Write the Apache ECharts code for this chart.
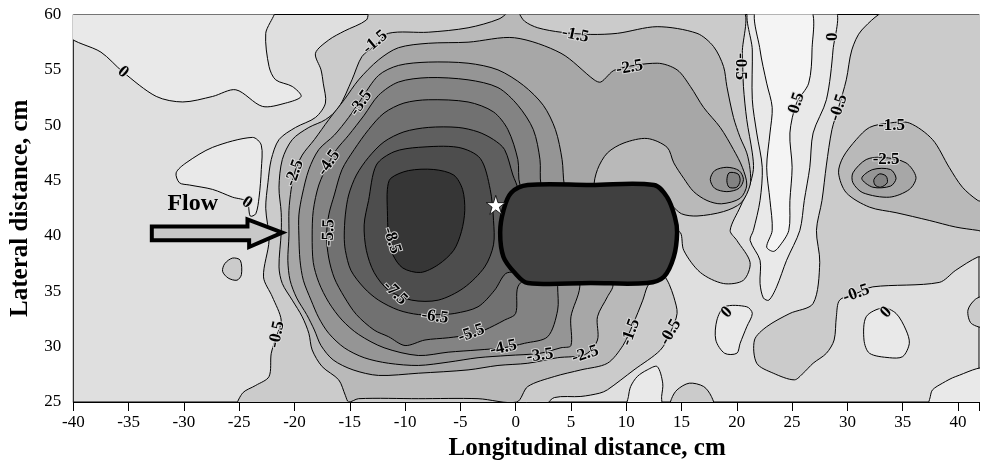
<!DOCTYPE html>
<html><head><meta charset="utf-8">
<script src="https://cdn.jsdelivr.net/npm/echarts@6.0.0/dist/echarts.min.js"></script>
<style>html,body{margin:0;padding:0;background:#fff}#c{width:982px;height:466px}</style>
</head><body><div id="c"></div>
<script>
// ---------------- DATA (cm) ----------------
const xRange = [-40, 41.9];
const yRange = [25, 60];
const tickStep = 5;

// positive regions (value > 0)
const pos0_topLeft = [[-40.5,58.1],[-37.5,56.6],[-35.5,54.8],[-32.5,52.6],[-30.1,52.1],[-27.4,52.6],[-25.3,53.2],[-22.9,51.7],[-20.8,52.0],[-19.4,52.6],[-20.2,53.5],[-21.7,54.1],[-22.3,55.3],[-22.6,58.3],[-21.9,60.5],[-40.5,60.5]];
const pos0_arrow = [[-30.7,45.7],[-29.8,46.6],[-27.4,48.0],[-23.8,48.9],[-23.0,48.2],[-23.0,46.0],[-23.2,43.5],[-23.5,42.0],[-24.0,41.8],[-24.3,43.1],[-25.6,43.5],[-27.4,44.2],[-29.5,44.6],[-30.4,44.8]];
const pos0_ridge = [[21.2,60.5],[21.4,56.8],[21.4,52.3],[21.8,49.3],[22.3,46.2],[22.1,43.2],[21.5,40.5],[21.2,39.6],[22.1,37.8],[22.1,35.7],[22.4,34.4],[22.9,34.2],[23.6,35.4],[24.5,37.8],[25.7,40.5],[26.1,43.2],[26.6,46.2],[26.9,49.3],[28.1,52.3],[28.7,56.8],[28.8,60.5]];
const pos0_blobA = [[18.9,33.6],[20.9,33.6],[21.4,33.0],[20.9,31.8],[20.3,30.3],[20.0,29.4],[18.9,29.4],[18.1,30.6],[18.2,32.4]];
const pos0_blobB = [[31.7,32.7],[33.2,33.5],[34.4,33.0],[35.3,31.5],[35.6,30.3],[35.0,29.1],[33.8,29.0],[32.0,29.4],[31.5,30.6]];
const pos0_bottomRight = [[37.4,24.5],[37.5,25.5],[37.7,26.1],[38.6,26.7],[39.8,27.3],[42.5,28.0],[42.5,24.5]];
const pos0_bottomMid = [[10.1,24.5],[10.2,25.5],[10.4,26.4],[11.0,27.3],[11.9,27.9],[12.8,28.2],[13.3,26.7],[13.2,25.5],[13.1,24.5]];
// value > 0.5
const pos05_ridge = [[21.8,60.5],[22.1,56.8],[22.7,53.8],[23.2,51.6],[23.0,49.3],[22.7,46.2],[23.0,43.2],[23.2,40.5],[22.7,39.0],[23.3,38.6],[23.8,39.0],[24.7,40.5],[24.8,43.2],[25.0,46.2],[24.8,49.3],[25.4,52.0],[26.5,53.8],[26.8,56.8],[26.6,60.5]];

// negative regions (value below level)
const neg05_main = [[-13.1,60.5],[-13.5,59.5],[-15.5,58.5],[-16.9,57.7],[-18.1,56.5],[-17.6,55.0],[-17.4,53.8],[-17.2,52.0],[-18.1,50.7],[-19.9,49.8],[-21.4,48.7],[-22.1,46.9],[-22.4,44.8],[-22.6,42.5],[-22.3,39.6],[-22.8,36.3],[-22.0,34.5],[-21.2,32.4],[-21.6,31.0],[-22.1,29.4],[-22.3,27.3],[-23.5,26.5],[-24.7,25.8],[-25.1,24.5],[2.3,24.5],[3.5,25.4],[5.9,25.5],[7.6,25.8],[8.3,26.1],[10.7,27.9],[13.1,29.7],[14.0,31.3],[14.6,33.0],[14.3,34.5],[13.9,35.6],[13.3,37.0],[14.1,40.4],[14.9,40.3],[15.2,38.7],[16.7,36.7],[18.8,35.7],[20.6,36.0],[21.2,37.6],[20.0,39.6],[19.4,40.5],[20.3,42.6],[21.1,44.4],[21.5,46.0],[21.4,47.5],[20.9,50.5],[20.6,53.5],[20.5,56.5],[20.3,60.5]];
const neg05_east = [[33.9,60.5],[42.5,60.5],[42.5,38.1],[41.8,38.1],[39.8,36.9],[38.3,35.8],[32.3,35.4],[30.8,34.8],[29.3,34.2],[29.0,32.7],[28.8,30.6],[28.1,29.4],[26.9,28.5],[26.0,27.6],[25.2,27.0],[23.3,27.6],[21.8,28.5],[21.6,30.6],[22.7,31.8],[24.8,33.0],[26.9,33.9],[27.5,37.6],[27.2,40.5],[27.7,43.2],[28.1,46.4],[28.6,49.6],[29.2,51.6],[29.9,54.1],[30.4,56.8],[31.3,58.6]];
const neg05_blobW = [[-26.3,37.5],[-25.6,38.0],[-24.9,37.8],[-24.8,36.5],[-25.2,36.0],[-26.0,36.2],[-26.5,36.8]];
const neg05_bottomBump = [[14.0,24.5],[14.1,25.3],[14.6,26.1],[15.7,26.7],[17.0,26.4],[17.7,25.5],[17.9,24.5]];
const neg05_rightBump = [[42.5,34.5],[41.6,34.3],[40.9,33.3],[41.2,32.1],[42.5,31.8]];

const neg15_main = [[-0.1,60.5],[0.8,59.4],[2.0,58.8],[4.1,58.4],[6.8,58.2],[9.2,58.3],[12.8,58.9],[16.4,58.3],[17.9,57.1],[18.8,55.3],[19.1,53.5],[19.7,50.7],[20.3,48.9],[20.9,47.5],[21.2,46.0],[21.2,44.6],[20.4,43.0],[18.8,42.2],[16.4,41.8],[15.0,42.0],[13.6,43.0],[12.8,36.9],[11.9,35.4],[11.5,34.2],[10.6,32.0],[9.7,30.1],[8.3,28.5],[5.9,27.9],[3.5,27.3],[1.1,26.4],[0.1,25.0],[-3.4,25.3],[-8.8,25.3],[-14.2,25.3],[-15.1,25.0],[-15.4,25.6],[-16.0,27.0],[-17.5,28.2],[-18.4,29.7],[-18.7,31.2],[-19.3,32.7],[-20.2,34.2],[-21.1,35.7],[-21.4,37.2],[-21.2,40.3],[-21.2,42.1],[-21.4,44.4],[-21.1,46.9],[-20.2,48.7],[-18.7,49.8],[-17.2,50.5],[-16.0,51.6],[-14.8,54.1],[-13.9,56.2],[-12.7,57.2],[-11.5,58.3],[-7.9,58.4],[-4.3,58.8],[-1.5,59.6]];
const neg15_east = [[32.0,49.8],[33.8,50.2],[35.6,50.2],[37.7,48.7],[39.2,46.2],[40.4,44.4],[41.8,43.2],[42.5,43.0],[42.5,40.4],[41.8,40.5],[39.8,40.8],[37.4,41.4],[34.4,42.1],[32.0,42.6],[29.9,43.9],[29.2,45.7],[29.6,47.1],[30.8,48.7]];

const neg25_main = [[-7.9,57.4],[-4.3,57.5],[-0.1,57.9],[4.1,56.5],[7.1,54.1],[7.7,53.9],[9.0,55.0],[12.8,55.6],[14.6,55.0],[15.8,53.5],[17.0,51.6],[18.5,49.8],[19.7,47.8],[20.5,46.2],[20.9,44.6],[20.3,43.4],[18.6,42.9],[17.3,43.2],[16.1,44.0],[15.2,45.2],[14.3,46.6],[13.7,48.0],[11.9,48.8],[9.8,48.4],[8.3,47.5],[7.4,46.0],[7.1,44.3],[8.8,35.6],[8.3,34.5],[7.4,32.7],[7.4,30.6],[6.3,29.3],[3.8,29.0],[1.1,28.5],[-1.6,28.3],[-4.3,27.9],[-8.8,27.6],[-12.4,27.4],[-14.7,27.9],[-16.5,28.8],[-17.6,30.1],[-18.2,31.5],[-18.9,32.9],[-19.8,34.4],[-20.4,36.0],[-20.6,37.8],[-20.5,40.0],[-20.5,42.3],[-20.3,44.2],[-20.0,45.7],[-19.3,47.3],[-18.2,48.7],[-16.9,50.5],[-15.5,52.3],[-14.2,54.1],[-12.4,55.9],[-10.6,57.0]];
const neg25_east = [[30.5,45.7],[31.7,46.9],[33.2,47.1],[35.3,46.6],[36.2,45.3],[35.6,44.2],[33.8,43.5],[31.4,43.9],[30.5,44.8]];

const neg35_main = [[4.4,44.6],[4.2,46.9],[3.6,49.6],[2.5,51.8],[0.7,53.6],[-1.6,55.0],[-4.3,55.6],[-7.9,55.7],[-10.6,55.4],[-12.4,54.5],[-14.0,52.3],[-15.1,50.7],[-16.4,49.1],[-17.8,47.8],[-18.7,46.0],[-19.3,43.7],[-19.6,41.9],[-19.6,40.0],[-19.5,37.8],[-19.2,36.0],[-18.5,34.2],[-17.8,32.6],[-16.9,31.2],[-15.5,29.9],[-13.7,29.0],[-11.5,28.5],[-8.8,28.3],[-6.1,28.6],[-3.4,29.0],[-0.7,29.2],[2.2,29.4],[4.1,29.9],[5.0,30.1],[5.0,32.7],[5.8,35.4],[5.5,40.0]];
const neg35_spotW = [[20.6,45.1],[20.2,45.9],[19.1,46.2],[18.0,45.9],[17.6,45.1],[18.0,44.3],[19.1,44.0],[20.2,44.3]];
const neg35_spotE = [[31.3,45.2],[32.3,46.0],[33.9,46.0],[34.4,45.2],[33.9,44.5],[32.3,44.4]];

const neg45_main = [[2.3,44.6],[2.2,46.9],[1.6,49.6],[0.2,51.8],[-1.6,53.4],[-4.3,54.1],[-7.9,54.3],[-10.6,53.9],[-12.4,52.7],[-13.7,50.9],[-15.1,49.1],[-16.2,47.8],[-16.9,46.6],[-17.8,44.6],[-18.3,42.3],[-18.4,40.0],[-18.3,37.6],[-17.8,35.8],[-16.9,34.0],[-15.7,32.4],[-14.2,31.1],[-11.9,29.9],[-8.8,29.2],[-6.1,29.5],[-3.4,29.7],[-1.1,29.9],[0.8,30.3],[2.9,30.9],[3.8,33.3],[3.8,35.4],[3.8,40.0]];
const neg45_spotW = [[19.3,45.7],[20.1,45.6],[20.3,45.0],[20.0,44.4],[19.3,44.4],[19.1,45.0]];
const neg45_spotE = [[32.4,45.1],[32.9,45.6],[33.5,45.4],[33.6,44.8],[33.0,44.4],[32.5,44.6]];

const neg55_main = [[0.4,44.6],[0.2,46.9],[-0.7,49.6],[-2.0,51.2],[-4.3,52.1],[-7.9,52.3],[-10.1,52.0],[-11.9,51.1],[-13.3,49.6],[-14.6,47.8],[-15.7,46.0],[-16.4,43.7],[-16.9,41.9],[-17.1,40.0],[-16.9,38.0],[-16.4,36.2],[-15.5,34.5],[-14.4,32.9],[-12.8,31.5],[-11.5,30.9],[-10.0,30.1],[-8.2,30.6],[-6.1,30.8],[-4.0,31.1],[-2.8,31.5],[-1.0,32.4],[0.0,33.0],[0.2,35.4],[1.5,37.0],[1.5,43.5]];
const neg65_main = [[-1.0,47.8],[-0.25,45.5],[0.2,44.2],[0.5,37.0],[-0.9,36.6],[-1.9,35.1],[-3.4,33.6],[-5.5,33.0],[-7.0,32.9],[-8.8,32.9],[-10.6,33.3],[-12.4,34.2],[-13.7,35.3],[-14.9,36.9],[-15.4,38.7],[-15.5,40.0],[-15.4,41.9],[-15.1,43.7],[-14.4,45.5],[-13.3,47.1],[-11.9,48.5],[-10.1,49.4],[-7.9,49.8],[-5.2,49.8],[-3.4,49.4],[-2.0,48.7]];
const neg75_main = [[-13.3,43.2],[-12.6,46.4],[-11.0,47.6],[-8.8,48.0],[-5.2,48.0],[-3.2,47.0],[-2.3,44.2],[-2.0,41.4],[-2.0,39.2],[-2.8,37.2],[-4.7,35.3],[-7.0,34.2],[-9.4,34.2],[-11.5,35.1],[-12.8,36.7],[-13.5,38.7],[-13.7,41.0]];
const neg85_main = [[-11.3,45.2],[-9.7,45.9],[-7.4,46.0],[-5.6,45.5],[-4.8,44.2],[-4.6,42.3],[-4.9,40.4],[-5.6,38.7],[-7.0,37.4],[-8.6,36.7],[-10.2,37.1],[-11.1,38.3],[-11.5,40.1],[-11.6,42.3],[-11.6,44.2]];

// obstacle outline, arrow, star
const obstacleOutline = [[1.1,44.6],[6.8,44.6],[12.5,44.6],[13.7,43.5],[14.4,41.7],[14.6,40.3],[14.3,38.1],[13.4,36.3],[11.9,35.75],[6.8,35.75],[1.1,35.75],[-0.06,36.65],[-1.1,38.1],[-1.4,40.3],[-1.1,42.3],[-0.4,43.9]];
const flowArrow = [[-32.9,40.85],[-24.25,40.85],[-24.25,41.5],[-21.1,40.3],[-24.1,39.0],[-24.1,39.6],[-32.9,39.6]];
const flowLabel = ['Flow', -29.2, 42.9];
const starPoint = [[-1.8, 42.8]];

// contour labels: text, x, y, angle
const contourLabels = [
 ['0',-35.5,54.8,-40],['0',-24.3,43.0,-35],['-1.5',-12.7,57.5,40],['-3.5',-14.0,52.0,55],
 ['-2.5',-20.0,45.7,70],['-4.5',-16.9,46.6,55],['-5.5',-16.9,40.3,88],['-0.5',-21.6,31.1,78],
 ['-8.5',-11.2,39.6,-72],['-7.5',-10.9,34.85,-45],['-6.5',-7.3,32.7,-8],['-5.5',-4.0,31.2,20],
 ['-4.5',-1.1,29.9,12],['-3.5',2.2,29.2,8],['-2.5',6.3,29.3,18],['-1.5',10.4,31.3,70],
 ['-0.5',14.0,31.3,60],['-1.5',5.4,58.15,-12],['-2.5',10.3,55.2,10],['-0.5',20.3,55.3,-90],
 ['0.5',25.4,52.0,72],['0',28.7,58.0,90],['-0.5',29.2,51.6,72],['-1.5',34.0,50.0,0],
 ['-2.5',33.5,46.9,0],['0',19.1,33.1,45],['0',33.5,33.1,45],['-0.5',30.8,34.8,20]
];

// drawing order: [level, region]
const regionList = [
 ['0',pos0_topLeft],['0',pos0_arrow],['0',pos0_ridge],['0',pos0_blobA],['0',pos0_blobB],['0',pos0_bottomRight],['0',pos0_bottomMid],
 ['0.5',pos05_ridge],
 ['-0.5',neg05_main],['-0.5',neg05_east],['-0.5',neg05_blobW],['-0.5',neg05_bottomBump],['-0.5',neg05_rightBump],
 ['-1.5',neg15_main],['-1.5',neg15_east],
 ['-2.5',neg25_main],['-2.5',neg25_east],
 ['-3.5',neg35_main],['-3.5',neg35_spotW],['-3.5',neg35_spotE],
 ['-4.5',neg45_main],['-4.5',neg45_spotW],['-4.5',neg45_spotE],
 ['-5.5',neg55_main],['-6.5',neg65_main],['-7.5',neg75_main],['-8.5',neg85_main]
];

// ---------------- STYLE ----------------
const bandFill = {'0.5':'#f4f4f4','0':'#e9e9e9','-0.5':'#cbcbcb','-1.5':'#b9b9b9','-2.5':'#a7a7a7','-3.5':'#959595','-4.5':'#838383','-5.5':'#717171','-6.5':'#5f5f5f','-7.5':'#4d4d4d','-8.5':'#363636'};
const baseFill = '#dfdfdf';
const FONT = 'Liberation Serif';

const chart = echarts.init(document.getElementById('c'), null, {renderer:'canvas'});
chart.setOption({
  animation:false,
  backgroundColor:'#ffffff',
  grid:{left:73.3, right:-1, top:14.5, bottom:64, show:true, backgroundColor:baseFill, borderColor:'#000', borderWidth:1},
  xAxis:{type:'value', min:xRange[0], max:xRange[1], interval:tickStep,
    name:'Longitudinal distance, cm', nameLocation:'middle', nameGap:33,
    nameTextStyle:{fontFamily:FONT, fontSize:25, fontWeight:'bold', color:'#000', padding:[0,0,0,122]},
    axisLine:{lineStyle:{color:'#000', width:1}}, axisTick:{length:9, lineStyle:{color:'#000'}},
    axisLabel:{fontFamily:FONT, fontSize:17, color:'#000', margin:12, formatter:v => (Math.abs(v % 5) < 1e-9 ? String(v) : '')},
    splitLine:{show:false}},
  yAxis:{type:'value', min:yRange[0], max:yRange[1], interval:tickStep,
    name:'Lateral distance, cm', nameLocation:'middle', nameGap:37,
    nameTextStyle:{fontFamily:FONT, fontSize:25, fontWeight:'bold', color:'#000'},
    axisLine:{lineStyle:{color:'#000', width:1}}, axisTick:{length:9, lineStyle:{color:'#000'}},
    axisLabel:{fontFamily:FONT, fontSize:17, color:'#000', margin:12},
    splitLine:{show:false}},
  series:[
    {type:'custom', coordinateSystem:'cartesian2d', clip:true, silent:true, z:2,
      data: regionList.map(r => r[1][0]),
      renderItem:(params, api) => {
        const r = regionList[params.dataIndex];
        return {type:'polygon', shape:{points:r[1].map(p => api.coord(p)), smooth:0.3},
          style:{fill:bandFill[r[0]], stroke:'#000', lineWidth:1}};
      }},
    {type:'custom', coordinateSystem:'cartesian2d', clip:true, silent:true, z:4,
      data:[obstacleOutline[0]],
      renderItem:(params, api) => ({type:'polygon', shape:{points:obstacleOutline.map(p => api.coord(p)), smooth:0.35},
        style:{fill:'#404040', stroke:'#000', lineWidth:4.5}})},
    {type:'custom', coordinateSystem:'cartesian2d', clip:true, silent:true, z:4,
      data:[flowArrow[0]],
      renderItem:(params, api) => ({type:'polygon', shape:{points:flowArrow.map(p => api.coord(p))},
        style:{fill:'#c8c8c8', stroke:'#000', lineWidth:4, lineJoin:'miter'}})},
    {type:'custom', coordinateSystem:'cartesian2d', clip:false, silent:true, z:5,
      data:[[flowLabel[1], flowLabel[2]]],
      renderItem:(params, api) => {
        const c = api.coord([flowLabel[1], flowLabel[2]]);
        return {type:'text', x:c[0], y:c[1], style:{text:flowLabel[0], fill:'#000', font:'bold 24px "Liberation Serif"', align:'center', verticalAlign:'middle'}};
      }},
    {type:'custom', coordinateSystem:'cartesian2d', clip:true, silent:true, z:5,
      data: contourLabels.map(l => [l[1], l[2]]),
      renderItem:(params, api) => {
        const l = contourLabels[params.dataIndex];
        const c = api.coord([l[1], l[2]]);
        return {type:'text', x:c[0], y:c[1], rotation:l[3]*Math.PI/180,
          style:{text:l[0], fill:'#000', font:'bold 17px "Liberation Serif"', align:'center', verticalAlign:'middle',
            stroke:'rgba(222,222,222,0.9)', lineWidth:2, strokeFirst:true}};
      }},
    {type:'scatter', z:6, silent:true, data:starPoint,
      symbol:'path://M50,0 L61.2,34.5 L97.6,34.5 L68.2,55.9 L79.4,90.5 L50,69.1 L20.6,90.5 L31.8,55.9 L2.4,34.5 L38.8,34.5 Z',
      symbolSize:19, itemStyle:{color:'#ffffff', borderColor:'#000', borderWidth:0.8, opacity:1}}
  ]
});
</script>
</body></html>
